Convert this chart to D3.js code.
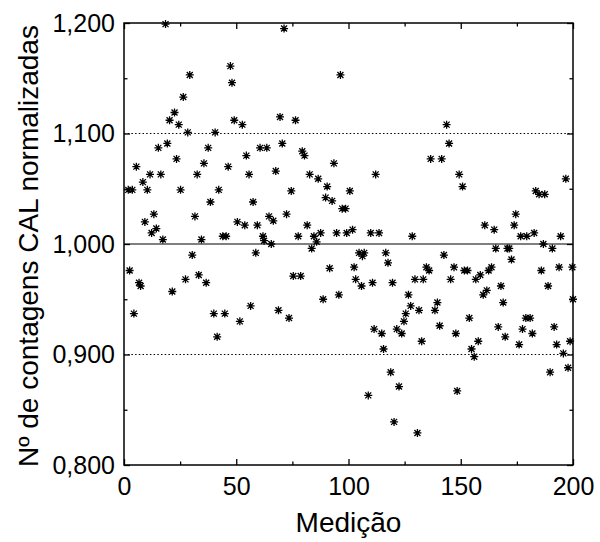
<!DOCTYPE html>
<html>
<head>
<meta charset="utf-8">
<script src="https://cdn.jsdelivr.net/npm/d3@7"></script>
<style>
  html, body { margin: 0; padding: 0; background: #fff; }
  svg { display: block; font-family: "Liberation Sans", Arial, sans-serif; }
</style>
</head>
<body>
<svg id="chart" width="600" height="542"></svg>
<script>
// ---- data ----
const medicao = [
  18.5,47.4,48.1,29.3,26.4,22.5,20.3,24.4,49.1,28.4,40.6,15.3,19.3,37.5,23.4,35.6,5.5,46.4,11.6,16.4,
  32.6,8.4,1.9,3.7,10.4,25.2,42.2,38.5,13.3,9.3,31.6,14.4,12.3,17.3,34.5,44.0,45.5,
  30.4,2.5,6.7,7.4,27.4,33.3,36.6,21.5,4.4,40.0,44.9,41.5,
  71.3,96.4,52.7,69.5,76.4,54.5,60.6,63.6,70.5,79.4,80.4,93.5,55.7,67.6,82.7,86.5,90.5,74.5,89.8,92.7,
  97.2,98.7,57.5,72.4,50.5,53.8,59.4,64.6,66.5,81.6,61.9,62.4,65.6,77.6,84.6,85.8,87.6,94.7,99.2,
  58.7,83.6,91.6,75.4,78.7,88.7,95.7,56.4,68.8,73.5,51.6,
  143.7,144.8,136.6,141.5,112.1,149.3,100.6,101.8,109.9,113.6,128.4,
  150.8,196.8,183.4,184.9,187.4,174.5,173.8,160.7,164.9,176.7,179.4,182.7,186.8,194.5,
  104.7,107.0,106.2,116.6,117.6,102.5,142.5,147.0,134.7,135.9,103.2,105.8,110.7,119.6,129.6,133.3,145.5,
  126.7,127.7,131.4,125.5,124.7,121.5,123.7,111.4,114.8,139.6,138.5,140.6,147.8,132.6,115.6,118.8,122.5,
  108.8,148.4,120.3,130.7,
  165.6,170.8,171.6,190.8,172.6,151.6,153.0,156.7,158.7,162.4,163.7,185.9,193.8,199.7,167.9,188.9,161.6,
  160.0,200.0,168.9,153.8,179.0,180.9,166.7,177.5,191.6,181.9,169.8,157.8,154.8,156.0,176.0,192.7,195.7,
  198.7,189.8,197.8
];
const contagens = [
  1.199,1.161,1.146,1.153,1.133,1.119,1.112,1.108,1.112,1.101,1.101,1.087,1.091,1.087,1.077,1.073,1.070,1.070,1.063,1.063,
  1.063,1.056,1.049,1.049,1.049,1.049,1.049,1.038,1.027,1.020,1.025,1.014,1.010,1.004,1.004,1.007,1.007,
  0.990,0.976,0.965,0.962,0.968,0.972,0.965,0.957,0.937,0.937,0.937,0.916,
  1.195,1.153,1.108,1.115,1.112,1.080,1.087,1.087,1.091,1.084,1.080,1.073,1.063,1.066,1.063,1.059,1.052,1.048,1.042,1.039,
  1.032,1.032,1.038,1.027,1.020,1.017,1.017,1.025,1.021,1.017,1.007,1.003,1.000,1.007,1.007,1.002,1.010,1.010,1.010,
  0.992,0.996,0.978,0.971,0.971,0.950,0.954,0.944,0.940,0.933,0.930,
  1.108,1.091,1.077,1.077,1.063,1.063,1.048,1.013,1.010,1.010,1.007,
  1.052,1.059,1.048,1.045,1.045,1.027,1.017,1.017,1.013,1.007,1.007,1.010,1.000,1.007,
  0.992,0.992,0.989,0.992,0.983,0.979,0.990,0.979,0.979,0.976,0.968,0.962,0.965,0.965,0.968,0.968,0.968,
  0.954,0.944,0.940,0.937,0.930,0.923,0.919,0.923,0.919,0.947,0.940,0.926,0.919,0.912,0.905,0.884,0.871,
  0.863,0.867,0.839,0.829,
  0.996,0.996,0.996,0.996,0.986,0.976,0.976,0.968,0.972,0.976,0.979,0.976,0.979,0.979,0.962,0.962,0.958,
  0.954,0.950,0.947,0.933,0.933,0.933,0.925,0.923,0.925,0.919,0.916,0.912,0.905,0.898,0.909,0.909,0.901,
  0.912,0.884,0.888
];
const xTicks = [0, 50, 100, 150, 200];
const xMinorTicks = [25, 75, 125, 175];
const yTicks = [0.8, 0.9, 1.0, 1.1, 1.2];
const yMinorTicks = [0.85, 0.95, 1.05, 1.15];
const dottedRefs = [0.9, 1.1];
const solidRefs = [1.0];
const xTitle = "Medição";
const yTitle = "Nº de contagens CAL normalizadas";

// ---- layout ----
const L = 124, R = 573, T = 23, B = 465;
const svg = d3.select("#chart");
const x = d3.scaleLinear().domain([0, 200]).range([L, R]);
const y = d3.scaleLinear().domain([0.8, 1.2]).range([B, T]);
const fmtY = v => d3.format(".3f")(v).replace(".", ",");

// reference lines
svg.append("g").selectAll("line").data(dottedRefs).join("line")
  .attr("x1", L).attr("x2", R).attr("y1", d => y(d)).attr("y2", d => y(d))
  .attr("stroke", "#000").attr("stroke-width", 1).attr("stroke-dasharray", "1.5,2.2");
svg.append("g").selectAll("line").data(solidRefs).join("line")
  .attr("x1", L).attr("x2", R).attr("y1", d => y(d)).attr("y2", d => y(d))
  .attr("stroke", "#000").attr("stroke-width", 1);

// axes (ticks inward) on all four sides
const fontSize = 25;
function styleAxis(g) {
  g.select(".domain").remove();
  g.selectAll("line").attr("stroke", "#000").attr("stroke-width", 1.3);
}
// bottom
svg.append("g").attr("transform", `translate(0,${B})`)
  .call(d3.axisBottom(x).tickValues(xTicks).tickSize(-6).tickPadding(12).tickFormat(d3.format("d")))
  .call(styleAxis)
  .call(g => g.selectAll("text").attr("font-size", fontSize).attr("fill", "#000")
    .attr("font-family", "'Liberation Sans', Arial, sans-serif"));
svg.append("g").attr("transform", `translate(0,${B})`)
  .call(d3.axisBottom(x).tickValues(xMinorTicks).tickSize(-3.5).tickFormat(""))
  .call(styleAxis);
// top
svg.append("g").attr("transform", `translate(0,${T})`)
  .call(d3.axisTop(x).tickValues(xTicks).tickSize(-6).tickFormat(""))
  .call(styleAxis);
svg.append("g").attr("transform", `translate(0,${T})`)
  .call(d3.axisTop(x).tickValues(xMinorTicks).tickSize(-3.5).tickFormat(""))
  .call(styleAxis);
// left
svg.append("g").attr("transform", `translate(${L},0)`)
  .call(d3.axisLeft(y).tickValues(yTicks).tickSize(-6).tickPadding(9).tickFormat(fmtY))
  .call(styleAxis)
  .call(g => g.selectAll("text").attr("font-size", fontSize).attr("fill", "#000")
    .attr("font-family", "'Liberation Sans', Arial, sans-serif"));
svg.append("g").attr("transform", `translate(${L},0)`)
  .call(d3.axisLeft(y).tickValues(yMinorTicks).tickSize(-3.5).tickFormat(""))
  .call(styleAxis);
// right
svg.append("g").attr("transform", `translate(${R},0)`)
  .call(d3.axisRight(y).tickValues(yTicks).tickSize(-6).tickFormat(""))
  .call(styleAxis);
svg.append("g").attr("transform", `translate(${R},0)`)
  .call(d3.axisRight(y).tickValues(yMinorTicks).tickSize(-3.5).tickFormat(""))
  .call(styleAxis);

// frame
svg.append("rect").attr("x", L).attr("y", T).attr("width", R - L).attr("height", B - T)
  .attr("fill", "none").attr("stroke", "#000").attr("stroke-width", 1.5);

// asterisk markers
const pts = medicao.map((m, i) => ({ m, v: contagens[i] }));
const r = 4, d = 3;
const star = `M${-r},0L${r},0M0,${-r}L0,${r}M${-d},${-d}L${d},${d}M${-d},${d}L${d},${-d}`;
svg.append("g").selectAll("path").data(pts).join("path")
  .attr("transform", p => `translate(${x(p.m)},${y(p.v)})`)
  .attr("d", star).attr("fill", "none").attr("stroke", "#000").attr("stroke-width", 1.3);

// titles
svg.append("text").attr("x", (L + R) / 2).attr("y", 532).attr("text-anchor", "middle")
  .attr("font-size", 28).attr("fill", "#000").text(xTitle);
svg.append("text").attr("transform", `translate(38,${(T + B) / 2 + 2}) rotate(-90)`)
  .attr("text-anchor", "middle").attr("font-size", 28).attr("fill", "#000").text(yTitle);
</script>
</body>
</html>
